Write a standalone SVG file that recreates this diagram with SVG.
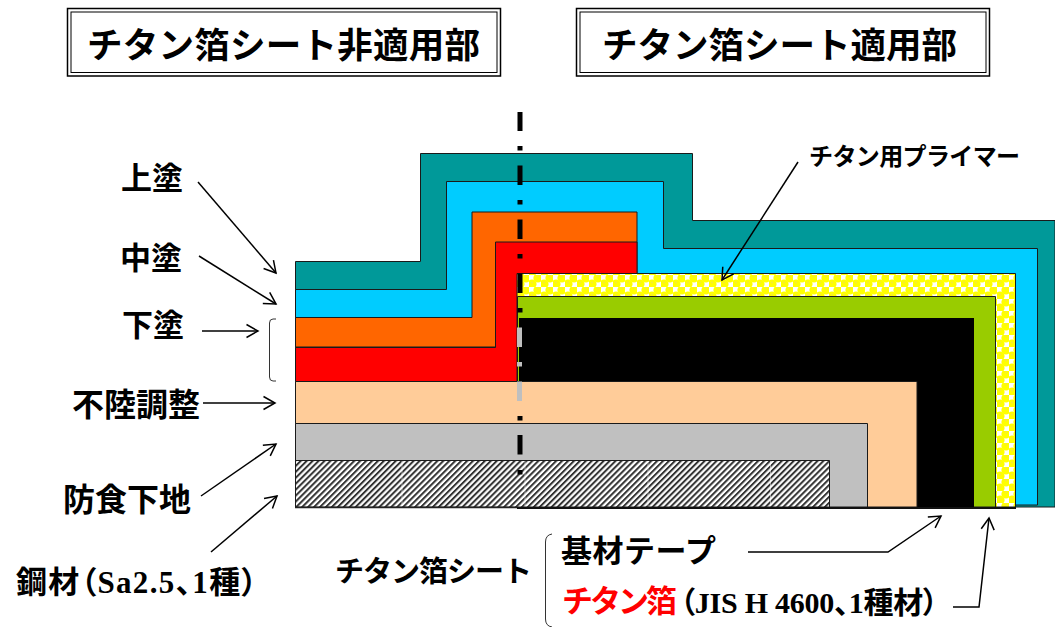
<svg xmlns="http://www.w3.org/2000/svg" width="1055" height="627" viewBox="0 0 1055 627">
<style>
.t{font-family:"Noto Sans CJK JP",sans-serif;font-weight:700;fill:#000}
.m{font-family:"Liberation Serif","Noto Sans CJK JP",serif;font-weight:700;fill:#000;font-feature-settings:"palt"}
.layer{stroke:#1a1a1a;stroke-width:1}
.conn{fill:none;stroke:#000;stroke-width:1.5}
.arr{marker-end:url(#open)}
.box{fill:#fff;stroke:#000}
</style>
<defs>
<marker id="open" markerUnits="userSpaceOnUse" markerWidth="20" markerHeight="20" refX="13" refY="10" orient="auto" viewBox="0 0 20 20">
<path d="M1.5 3.5L13 10L1.5 16.5" fill="none" stroke="#000" stroke-width="1.5"/>
</marker>
<pattern id="dots" width="12" height="12" patternUnits="userSpaceOnUse" x="517" y="275">
<rect width="12" height="12" fill="#fff"/>
<rect x="6" width="6" height="6" fill="#ffff00"/><rect y="6" width="6" height="6" fill="#ffff00"/>
<circle cx="9" cy="3" r="4.6" fill="#ffff00"/><circle cx="3" cy="9" r="4.6" fill="#ffff00"/>
<circle cx="9" cy="1.4" r="1" fill="#f5e640"/><circle cx="3" cy="7.4" r="1" fill="#f5e640"/>
</pattern>
<pattern id="hatch" width="4.2" height="4.2" patternUnits="userSpaceOnUse" patternTransform="rotate(45)">
<rect width="4.2" height="4.2" fill="#fff"/><rect width="2" height="4.2" fill="#333"/>
</pattern>
</defs>
<rect width="1055" height="627" fill="#fff"/>

<g id="header-left">
<rect class="box" x="67.5" y="8.5" width="433" height="67.5" stroke-width="1.5"/>
<rect class="box" x="71" y="12" width="426" height="60.5" stroke-width="1"/>
<text class="t" x="87" y="58" font-size="35.5" textLength="393">チタン箔シート非適用部</text>
</g>
<g id="header-right">
<rect class="box" x="576.5" y="8.5" width="413" height="67.5" stroke-width="1.5"/>
<rect class="box" x="580" y="12" width="406" height="60.5" stroke-width="1"/>
<text class="t" x="602" y="58" font-size="35.5" textLength="355">チタン箔シート適用部</text>
</g>

<g id="layer-topcoat"><path class="layer" fill="#009999" d="M295.500 261.500H420.500V153.500H692.500V220.500H1055V507H295.500Z"/></g>
<g id="layer-midcoat"><path class="layer" fill="#00ccff" d="M295.500 289.500H446.500V181.500H663.500V248.500H1037.500V505H295.500Z"/></g>
<g id="layer-undercoat1"><path class="layer" fill="#ff6600" d="M295.500 317.500H472V212H637V347H295.500Z"/></g>
<g id="layer-undercoat2"><path class="layer" fill="#ff0000" d="M295.500 347.500H495.500V242H637V381.500H295.500Z"/></g>
<g id="layer-primer"><path class="layer" fill="url(#dots)" d="M517 273.500H1015.500V507H517Z"/></g>
<g id="layer-titanium"><path class="layer" fill="#99cc00" d="M517.500 296.500H995.500V507H517.500Z"/></g>
<g id="layer-tape"><rect x="519" y="318" width="455" height="189" fill="#000"/></g>
<g id="layer-putty"><path class="layer" fill="#ffcc99" d="M295.500 381.500H917V507H295.500Z"/></g>
<g id="layer-anticorrosion"><path class="layer" fill="#c0c0c0" d="M295.500 423.500H867.500V507H295.500Z"/></g>
<g id="layer-steel">
<path class="layer" fill="url(#hatch)" d="M295.500 460.500H829.500V507H295.500Z"/>
<path d="M402 461V506M525 461V506M648 461V506M770.500 461V506" stroke="#fff" stroke-width="1" opacity=".5" fill="none"/>
</g>
<path id="base-line" d="M295 507.500H517" stroke="#222" stroke-width="1.500" fill="none"/>
<path id="base-line-right" d="M517 508H1016" stroke="#111" stroke-width="2" fill="none"/>

<g id="centerline" fill="#000">
<rect x="517.500" y="112" width="5" height="19"/><rect x="517.500" y="146" width="5" height="4.500"/>
<rect x="517.500" y="165.500" width="5" height="19.500"/><rect x="517.500" y="200" width="5" height="4.500"/>
<rect x="517.500" y="219.500" width="5" height="19.500"/><rect x="517.500" y="254" width="5" height="4.500"/>
<rect x="517.500" y="273.500" width="5" height="19.500"/><rect x="517.500" y="308" width="5" height="4.500"/>
<g fill="#bfbfbf"><rect x="517" y="327.500" width="5" height="19.500"/><rect x="517" y="362" width="5" height="4.500"/><rect x="517" y="381.500" width="5" height="19.500"/></g>
<rect x="517.500" y="416" width="5" height="4.500"/><rect x="517.500" y="435" width="5" height="19.500"/><rect x="517.500" y="470" width="5" height="4.500"/>
</g>

<g id="connectors">
<path class="conn arr" d="M198 182L276 273"/>
<path class="conn arr" d="M199 256L276 304"/>
<path class="conn arr" d="M202 331H258"/>
<path class="conn arr" d="M203 403H275"/>
<path class="conn arr" d="M201 496L276 444"/>
<path class="conn arr" d="M211 552L277 496"/>
<path class="conn arr" d="M798 162L722 280"/>
<path class="conn arr" d="M748 552H888L941 516"/>
<path class="conn arr" d="M953 607H979L989 518"/>
<path id="brace-undercoat" d="M276 319H273Q269.500 319 269.500 323V377Q269.500 381 273 381H276" fill="none" stroke="#333" stroke-width="1"/>
<path id="brace-sheet" d="M552 534Q545.500 535 545.500 542V619Q545.500 626 552 627" fill="none" stroke="#333" stroke-width="1"/>
</g>

<g id="label-top"><text class="t" x="121" y="189" font-size="31">上塗</text></g>
<g id="label-mid"><text class="t" x="120" y="269" font-size="31">中塗</text></g>
<g id="label-under"><text class="t" x="122" y="336" font-size="31">下塗</text></g>
<g id="label-putty"><text class="t" x="72" y="416" font-size="32">不陸調整</text></g>
<g id="label-anticorrosion"><text class="t" x="63" y="511" font-size="32">防食下地</text></g>
<g id="label-steel"><text class="m" x="16" y="593" font-size="31" textLength="241">鋼材（Sa2.5、1種）</text></g>
<g id="label-primer"><text class="t" x="809" y="165" font-size="24" textLength="211">チタン用プライマー</text></g>
<g id="label-sheet"><text class="t" x="335" y="582" font-size="29" textLength="197">チタン箔シート</text></g>
<g id="label-tape"><text class="t" x="561" y="562" font-size="31" textLength="155">基材テープ</text></g>
<g id="label-foil"><text class="t" x="562" y="612" font-size="31" textLength="115" style="fill:#ff0000">チタン箔</text><text class="m" x="680" y="613" font-size="30" textLength="258">（JIS H 4600、1種材）</text></g>
</svg>
